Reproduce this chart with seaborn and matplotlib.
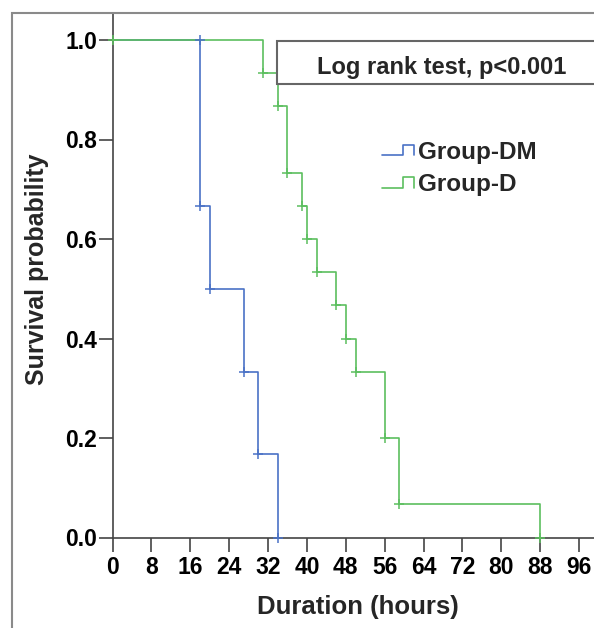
import matplotlib
matplotlib.use("Agg")
import matplotlib.pyplot as plt
import seaborn as sns
import pandas as pd
from matplotlib.lines import Line2D
from matplotlib.legend_handler import HandlerBase
from matplotlib.patches import Rectangle

# ---- data ----
dm_time = [0, 18, 20, 27, 30, 34]
dm_surv = [1.0, 0.667, 0.5, 0.333, 0.167, 0.0]
dm_mark_time = [18, 18, 20, 27, 30, 34]
dm_mark_surv = [1.0, 0.667, 0.5, 0.333, 0.167, 0.0]

d_time = [0, 31, 34, 36, 39, 40, 42, 46, 48, 50, 56, 59, 88]
d_surv = [1.0, 0.933, 0.867, 0.733, 0.667, 0.6, 0.533, 0.467, 0.4, 0.333, 0.2, 0.067, 0.0]
d_mark_time = d_time
d_mark_surv = d_surv

groups = ["Group-DM", "Group-D"]
colors = {"Group-DM": "#4a72c6", "Group-D": "#5cbf5f"}
x_ticks = [0, 8, 16, 24, 32, 40, 48, 56, 64, 72, 80, 88, 96]
y_ticks = [0.0, 0.2, 0.4, 0.6, 0.8, 1.0]
annot = "Log rank test, p<0.001"

df = pd.DataFrame({
    "time": dm_time + d_time,
    "surv": dm_surv + d_surv,
    "group": ["Group-DM"] * len(dm_time) + ["Group-D"] * len(d_time),
})
marks = pd.DataFrame({
    "time": dm_mark_time + d_mark_time,
    "surv": dm_mark_surv + d_mark_surv,
    "group": ["Group-DM"] * len(dm_mark_time) + ["Group-D"] * len(d_mark_time),
})

sns.set_theme(style="white")
plt.rcParams["font.family"] = ["Liberation Sans", "DejaVu Sans"]
plt.rcParams["font.weight"] = "bold"

W, H = 594, 628
fig = plt.figure(figsize=(W / 100, H / 100), dpi=100)
fig.patch.set_facecolor("white")

# axes placement in pixels
x0_px, y0_px = 112.5, 537.5
px_per_h = 4.86
xmax = 100
top_px = 14
ax = fig.add_axes([x0_px / W, (H - y0_px) / H, xmax * px_per_h / W, (y0_px - top_px) / H])
ax.set_facecolor("white")

# outer frame
fig.patches.append(Rectangle((12 / W, -0.1), 1.2, 1 - 13.5 / H + 0.1, transform=fig.transFigure,
                             fill=False, edgecolor="#8a8a8a", linewidth=1.5, zorder=0))

sns.lineplot(data=df, x="time", y="surv", hue="group", hue_order=groups, palette=colors,
             drawstyle="steps-post", estimator=None, sort=False, linewidth=1.2,
             legend=False, ax=ax)
for g in groups:
    sub = marks[marks["group"] == g]
    ax.scatter(sub["time"], sub["surv"], marker="+", s=45, color=colors[g], linewidths=1.1, zorder=3,
               clip_on=False)

ax.set_xlim(0, xmax)
ax.set_ylim(0, 1.0 + 26 / 497.5)
ax.set_xticks(x_ticks)
ax.set_xticklabels([str(t) for t in x_ticks])
ax.set_yticks(y_ticks)
ax.set_yticklabels([f"{v:.1f}" for v in y_ticks])
for s in ["top", "right"]:
    ax.spines[s].set_visible(False)
for s in ["left", "bottom"]:
    ax.spines[s].set_color("#444444")
    ax.spines[s].set_linewidth(1.2)
ax.tick_params(axis="both", which="major", direction="out", length=10, width=1.2, color="#444444",
               labelsize=16.5, pad=1, labelcolor="black", bottom=True, left=True)
ax.tick_params(axis="x", pad=3)
for lab in ax.get_xticklabels() + ax.get_yticklabels():
    lab.set_fontweight("bold")
ax.set_xlabel("")
ax.set_ylabel("")
ax.grid(False)

fig.text(358 / W, 1 - 607 / H, "Duration (hours)", ha="center", va="center", fontsize=18.5,
         fontweight="bold")
fig.text(37 / W, 1 - 269 / H, "Survival probability", ha="center", va="center", rotation=90,
         fontsize=18, fontweight="bold")

# log rank box
fig.patches.append(Rectangle((276.7 / W, 1 - 84 / H), 1.0, 43 / H, transform=fig.transFigure,
                             facecolor="white", edgecolor="#666666", linewidth=1.5, zorder=5))
fig.text(441.5 / W, 1 - 74 / H, annot, ha="center", va="baseline", fontsize=17,
         fontweight="bold", zorder=6)


class StepHandler(HandlerBase):
    def create_artists(self, legend, orig_handle, xdescent, ydescent, width, height, fontsize, trans):
        x0 = -xdescent
        y0 = -ydescent
        xs = [x0, x0 + 0.65 * width, x0 + 0.65 * width, x0 + width, x0 + width]
        ys = [y0 + 0.05 * height, y0 + 0.05 * height, y0 + 0.95 * height,
              y0 + 0.95 * height, y0 + 0.05 * height]
        ln = Line2D(xs, ys, color=orig_handle.get_color(), linewidth=1.2)
        ln.set_transform(trans)
        return [ln]


handles = [Line2D([], [], color=colors[g]) for g in groups]
leg = ax.legend(handles, groups, handler_map={Line2D: StepHandler()}, loc="upper left",
                bbox_to_anchor=(382 / W, 1 - 141 / H), bbox_transform=fig.transFigure,
                frameon=False, borderpad=0, borderaxespad=0, handlelength=1.3,
                handleheight=0.35, handletextpad=0.2, labelspacing=0.38,
                prop={"size": 17.5, "weight": "bold"})

fig.savefig("out.png", dpi=100)
